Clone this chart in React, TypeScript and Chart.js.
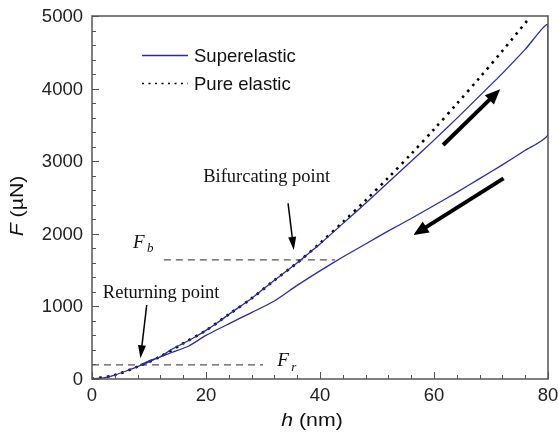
import React, { useEffect, useRef } from "react";
import { Chart, registerables } from "chart.js";

Chart.register(...registerables);

// ---- data (h in nm, F in µN) ----
const loadH = [0, 2, 4, 6, 8, 10, 12, 14, 16, 18, 20, 22, 24, 26, 28, 30, 32, 34, 36, 38, 40, 44, 48, 52, 56, 60, 64, 68, 72, 76, 80];
const loadF = [0, 15, 55, 110, 170, 235, 310, 410, 490, 575, 670, 775, 890, 1000, 1110, 1235, 1360, 1480, 1600, 1730, 1860, 2140, 2420, 2710, 3000, 3290, 3590, 3900, 4210, 4540, 4880];
const unloadH = [80, 76, 72, 68, 64, 60, 56, 52, 48, 44, 40, 36, 32, 28, 24, 20, 17, 14, 12, 10, 8.5];
const unloadF = [3370, 3150, 2950, 2760, 2570, 2390, 2210, 2040, 1860, 1680, 1490, 1290, 1075, 915, 760, 600, 455, 365, 305, 250, 195];
const elasticH = [0, 4, 8, 12, 16, 20, 24, 28, 32, 36, 40, 44, 48, 52, 56, 60, 64, 68, 72, 76.5];
const elasticF = [0, 55, 170, 310, 490, 670, 890, 1110, 1360, 1600, 1870, 2160, 2460, 2775, 3100, 3440, 3790, 4150, 4520, 4950];

const xTickValues = [0, 20, 40, 60, 80];
const yTickValues = [0, 1000, 2000, 3000, 4000, 5000];

const FbLevel = 1640;
const FbRange = [12.6, 42.6];
const FrLevel = 195;
const FrRange = [0, 30];

const seriesLabels = ["Superelastic", "Pure elastic"];
const bifText = "Bifurcating point";
const retText = "Returning point";

const BLUE = "#2b2ba6";

function App() {
  const ref = useRef<HTMLCanvasElement | null>(null);

  useEffect(() => {
    const canvas = ref.current;
    if (!canvas) return;

    const superData = [
      ...loadH.map((h, i) => ({ x: h, y: loadF[i] })),
      ...unloadH.map((h, i) => ({ x: h, y: unloadF[i] })),
    ];
    const elasticData = elasticH.map((h, i) => ({ x: h, y: elasticF[i] }));

    const serif = '"Liberation Serif", "Times New Roman", serif';
    const sans = '"Liberation Sans", Arial, Helvetica, sans-serif';

    const arrow = (ctx: CanvasRenderingContext2D, x1: number, y1: number, x2: number, y2: number, lw: number, hl: number, hw: number) => {
      const ang = Math.atan2(y2 - y1, x2 - x1);
      const bx = x2 - hl * Math.cos(ang);
      const by = y2 - hl * Math.sin(ang);
      ctx.save();
      ctx.strokeStyle = "#000";
      ctx.fillStyle = "#000";
      ctx.lineWidth = lw;
      ctx.lineCap = "butt";
      ctx.beginPath();
      ctx.moveTo(x1, y1);
      ctx.lineTo(bx + Math.cos(ang), by + Math.sin(ang));
      ctx.stroke();
      ctx.beginPath();
      ctx.moveTo(x2, y2);
      ctx.lineTo(bx + (hw / 2) * Math.sin(ang), by - (hw / 2) * Math.cos(ang));
      ctx.lineTo(bx - (hw / 2) * Math.sin(ang), by + (hw / 2) * Math.cos(ang));
      ctx.closePath();
      ctx.fill();
      ctx.restore();
    };

    const decor = {
      id: "decor",
      beforeDatasetsDraw(chart: any) {
        const { ctx, scales } = chart;
        const X = scales.x, Y = scales.y;
        ctx.save();
        ctx.strokeStyle = "#555";
        ctx.lineWidth = 1.3;
        ctx.setLineDash([7, 5]);
        ctx.beginPath();
        ctx.moveTo(X.getPixelForValue(FbRange[0]), Y.getPixelForValue(FbLevel));
        ctx.lineTo(X.getPixelForValue(FbRange[1]), Y.getPixelForValue(FbLevel));
        ctx.moveTo(X.getPixelForValue(FrRange[0]), Y.getPixelForValue(FrLevel));
        ctx.lineTo(X.getPixelForValue(FrRange[1]), Y.getPixelForValue(FrLevel));
        ctx.stroke();
        ctx.restore();
      },
      afterDraw(chart: any) {
        const { ctx, scales, chartArea } = chart;
        const X = scales.x, Y = scales.y;
        const px = (h: number) => X.getPixelForValue(h);
        const py = (f: number) => Y.getPixelForValue(f);
        ctx.save();
        // frame
        ctx.strokeStyle = "#555";
        ctx.lineWidth = 1.5;
        ctx.strokeRect(chartArea.left, chartArea.top, chartArea.right - chartArea.left, chartArea.bottom - chartArea.top);
        // inward ticks
        ctx.lineWidth = 1;
        ctx.beginPath();
        for (let v = 0; v <= 80; v += 4) {
          const len = v % 20 === 0 ? 7 : 4;
          const x = Math.round(px(v)) + 0.5;
          ctx.moveTo(x, chartArea.bottom);
          ctx.lineTo(x, chartArea.bottom - len);
        }
        for (let v = 0; v <= 5000; v += 200) {
          const len = v % 1000 === 0 ? 7 : 4;
          const y = Math.round(py(v)) + 0.5;
          ctx.moveTo(chartArea.left, y);
          ctx.lineTo(chartArea.left + len, y);
        }
        ctx.stroke();

        // tick labels
        ctx.fillStyle = "#222";
        ctx.font = `18.5px ${sans}`;
        ctx.textBaseline = "middle";
        ctx.textAlign = "right";
        yTickValues.forEach((v) => ctx.fillText(String(v), chartArea.left - 9, py(v) + 1));
        ctx.textAlign = "center";
        xTickValues.forEach((v) => ctx.fillText(String(v), px(v), chartArea.bottom + 17));

        // legend
        ctx.strokeStyle = BLUE;
        ctx.lineWidth = 1.3;
        ctx.setLineDash([]);
        ctx.beginPath();
        ctx.moveTo(142, 55.5);
        ctx.lineTo(188, 55.5);
        ctx.stroke();
        ctx.strokeStyle = "#000";
        ctx.lineWidth = 1.6;
        ctx.setLineDash([2, 4.5]);
        ctx.beginPath();
        ctx.moveTo(142, 83.5);
        ctx.lineTo(188, 83.5);
        ctx.stroke();
        ctx.setLineDash([]);
        ctx.fillStyle = "#111";
        ctx.font = `18.5px ${sans}`;
        ctx.textBaseline = "alphabetic";
        ctx.textAlign = "left";
        ctx.fillText(seriesLabels[0], 194, 62);
        ctx.fillText(seriesLabels[1], 194, 90);

        // arrows
        arrow(ctx, px(61.6), py(3223), px(71.6), py(3990), 4, 15, 13);
        arrow(ctx, px(72.2), py(2764), px(56.4), py(1983), 4, 15, 13);
        arrow(ctx, px(34.4), py(2420), px(35.4), py(1777), 1.5, 13, 8);
        arrow(ctx, px(9.6), py(1019), px(8.5), py(285), 1.5, 13, 8);

        // annotation text
        ctx.fillStyle = "#111";
        ctx.font = `18.5px ${serif}`;
        ctx.fillText(bifText, px(19.5), py(2713));
        ctx.fillText(retText, px(1.9), py(1116));
        ctx.font = `italic 19px ${serif}`;
        ctx.fillText("F", px(7.2), py(1804));
        ctx.fillText("F", px(32.5), py(179));
        ctx.font = `italic 13px ${serif}`;
        ctx.fillText("b", px(7.2) + 14, py(1804) + 4);
        ctx.fillText("r", px(32.5) + 14, py(179) + 5);

        // axis titles
        const xs = 1.12;
        ctx.font = `italic 19px ${sans}`;
        const w1 = ctx.measureText("h").width;
        ctx.font = `19px ${sans}`;
        const w2 = ctx.measureText(" (nm)").width;
        ctx.save();
        ctx.translate(312 - ((w1 + w2) * xs) / 2, 426);
        ctx.scale(xs, 1);
        ctx.font = `italic 19px ${sans}`;
        ctx.fillText("h", 0, 0);
        ctx.font = `19px ${sans}`;
        ctx.fillText(" (nm)", w1, 0);
        ctx.restore();

        ctx.save();
        ctx.translate(23, 206);
        ctx.rotate(-Math.PI / 2);
        ctx.font = `italic 19px ${sans}`;
        const yw1 = ctx.measureText("F").width;
        ctx.font = `19px ${sans}`;
        const yw2 = ctx.measureText(" (\u00b5N)").width;
        ctx.scale(xs, 1);
        const start = -(yw1 + yw2) / 2;
        ctx.font = `italic 19px ${sans}`;
        ctx.fillText("F", start, 0);
        ctx.font = `19px ${sans}`;
        ctx.fillText(" (\u00b5N)", start + yw1, 0);
        ctx.restore();

        ctx.restore();
      },
    };

    const chart = new Chart(canvas, {
      type: "line",
      data: {
        datasets: [
          {
            label: seriesLabels[0],
            data: superData,
            borderColor: BLUE,
            borderWidth: 1.3,
            pointRadius: 0,
            tension: 0.2,
            fill: false,
          },
          {
            label: seriesLabels[1],
            data: elasticData,
            borderColor: "#000",
            borderWidth: 2.6,
            borderDash: [2.5, 5],
            pointRadius: 0,
            tension: 0.3,
            fill: false,
          },
        ],
      },
      options: {
        responsive: false,
        animation: false,
        layout: { padding: { top: 16, right: 10, left: 0, bottom: 0 } },
        plugins: { legend: { display: false }, tooltip: { enabled: false }, title: { display: false } },
        scales: {
          x: {
            type: "linear",
            min: 0,
            max: 80,
            afterFit: (s: any) => { s.height = 54; },
            afterBuildTicks: (s: any) => { s.ticks = xTickValues.map((v) => ({ value: v })); },
            grid: { display: false },
            border: { display: false },
            ticks: { display: false },
          },
          y: {
            type: "linear",
            min: 0,
            max: 5000,
            afterFit: (s: any) => { s.width = 92; },
            afterBuildTicks: (s: any) => { s.ticks = yTickValues.map((v) => ({ value: v })); },
            grid: { display: false },
            border: { display: false },
            ticks: { display: false },
          },
        },
      },
      plugins: [decor],
    });

    return () => chart.destroy();
  }, []);

  return (
    <div style={{ position: "absolute", left: 0, top: 0, width: 558, height: 433, background: "#fff" }}>
      <canvas ref={ref} width={558} height={433} />
    </div>
  );
}

export default App;
